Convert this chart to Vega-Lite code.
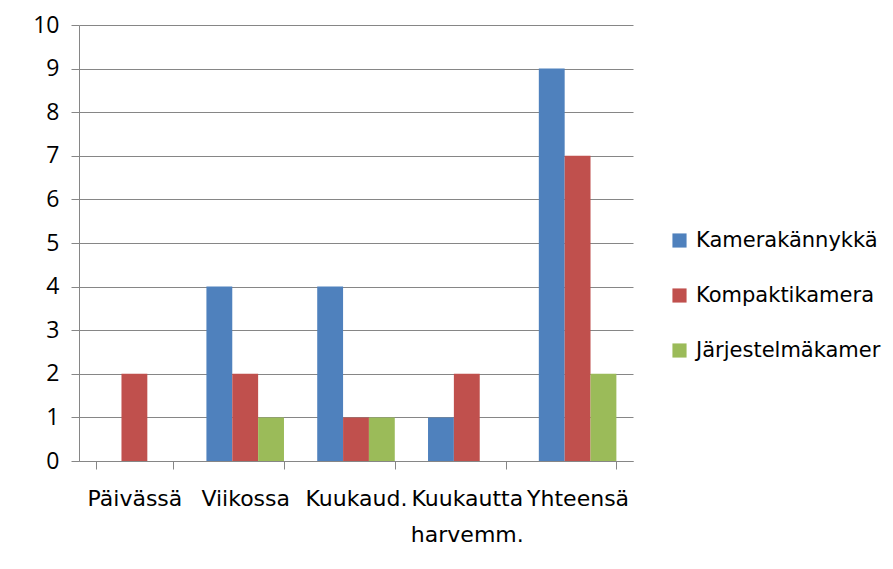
{
  "$schema": "https://vega.github.io/schema/vega-lite/v6.json",
  "width": 554,
  "height": 436,
  "autosize": {"type": "none"},
  "padding": {"left": 79, "top": 25, "right": 260, "bottom": 108},
  "background": "white",
  "config": {
    "view": {"stroke": null},
    "font": "Open Sans"
  },
  "data": {
    "values": [
      {"cat": "Päivässä", "series": "Kamerakännykkä", "value": 0},
      {"cat": "Päivässä", "series": "Kompaktikamera", "value": 2},
      {"cat": "Päivässä", "series": "Järjestelmäkamer", "value": 0},
      {"cat": "Viikossa", "series": "Kamerakännykkä", "value": 4},
      {"cat": "Viikossa", "series": "Kompaktikamera", "value": 2},
      {"cat": "Viikossa", "series": "Järjestelmäkamer", "value": 1},
      {"cat": "Kuukaud.", "series": "Kamerakännykkä", "value": 4},
      {"cat": "Kuukaud.", "series": "Kompaktikamera", "value": 1},
      {"cat": "Kuukaud.", "series": "Järjestelmäkamer", "value": 1},
      {"cat": "Kuukautta|harvemm.", "series": "Kamerakännykkä", "value": 1},
      {"cat": "Kuukautta|harvemm.", "series": "Kompaktikamera", "value": 2},
      {"cat": "Kuukautta|harvemm.", "series": "Järjestelmäkamer", "value": 0},
      {"cat": "Yhteensä", "series": "Kamerakännykkä", "value": 9},
      {"cat": "Yhteensä", "series": "Kompaktikamera", "value": 7},
      {"cat": "Yhteensä", "series": "Järjestelmäkamer", "value": 2}
    ]
  },
  "mark": {"type": "bar"},
  "encoding": {
    "x": {
      "field": "cat",
      "type": "nominal",
      "sort": null,
      "scale": {"paddingInner": 0.3, "paddingOuter": 0.15},
      "axis": {
        "title": null,
        "labelAngle": 0,
        "labelExpr": "split(datum.label, '|')",
        "labelFont": "DejaVu Sans",
        "labelFontSize": 22,
        "labelColor": "#000000",
        "labelPadding": 19,
        "labelLineHeight": 36,
        "labelBaseline": "top",
        "labelOverlap": false,
        "labelBound": false,
        "labelLimit": 200,
        "domainColor": "#868686",
        "tickColor": "#868686",
        "tickSize": 8,
        "tickBand": "extent",
        "grid": false
      }
    },
    "xOffset": {
      "field": "series",
      "type": "nominal",
      "sort": ["Kamerakännykkä", "Kompaktikamera", "Järjestelmäkamer"],
      "scale": {"paddingInner": 0, "paddingOuter": 0}
    },
    "y": {
      "field": "value",
      "type": "quantitative",
      "scale": {"domain": [0, 10], "nice": false},
      "axis": {
        "title": null,
        "values": [0, 1, 2, 3, 4, 5, 6, 7, 8, 9, 10],
        "labelFontSize": 23,
        "labelColor": "#000000",
        "labelPadding": 12,
        "tickSize": 8,
        "tickColor": "#868686",
        "domainColor": "#868686",
        "gridColor": "#868686",
        "grid": true
      }
    },
    "color": {
      "field": "series",
      "type": "nominal",
      "sort": ["Kamerakännykkä", "Kompaktikamera", "Järjestelmäkamer"],
      "scale": {
        "domain": ["Kamerakännykkä", "Kompaktikamera", "Järjestelmäkamer"],
        "range": ["#4F81BD", "#C0504D", "#9BBB59"]
      },
      "legend": {
        "title": null,
        "orient": "none",
        "legendX": 590,
        "legendY": 205,
        "symbolType": "square",
        "symbolSize": 200,
        "symbolStrokeWidth": 0,
        "labelFont": "DejaVu Sans",
        "labelFontSize": 21,
        "labelColor": "#000000",
        "labelOffset": 6,
        "rowPadding": 33,
        "labelLimit": 300
      }
    }
  }
}
